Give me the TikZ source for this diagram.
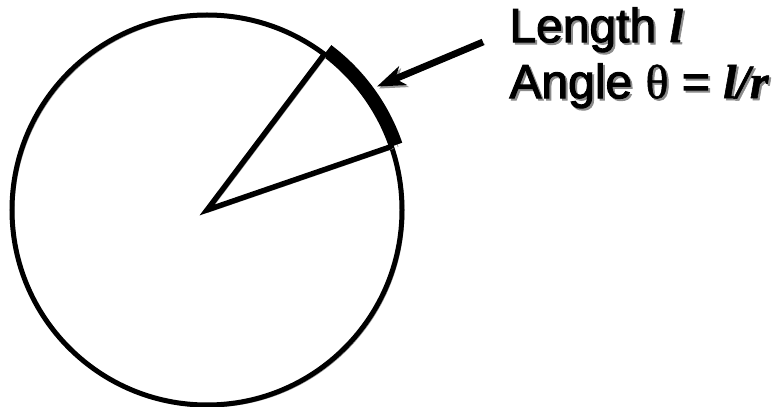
\documentclass[tikz,border=0pt]{standalone}
\usepackage{fontspec}
\setmainfont{Liberation Sans}
\newfontfamily\heavysans[FakeBold=2.2]{Liberation Sans}
\newfontfamily\timesfont[FakeBold=1.2]{Liberation Serif}
\usetikzlibrary{arrows.meta}

\begin{document}
\begin{tikzpicture}[
        x=.5pt,y=.5pt,
        drop/.style={preaction={draw=black!40,transform canvas={shift={(1pt,-1pt)}}}},
        rim/.style={drop,draw=black,line width=2.5pt},
        spoke/.style={drop,draw=black,line width=2.7pt,line cap=butt},
        arclen/.style={drop,draw=black,line width=6.5pt},
        pointer/.style={drop,draw=black,line width=3.4pt,
          -{Stealth[length=14pt,width=10pt,inset=4pt]}},
        caption/.style={anchor=north west,align=left,inner sep=0pt,
          font=\heavysans\fontsize{24}{28}\selectfont}
      ]
        \useasboundingbox (0,0) rectangle (777,407);

        \coordinate (centre) at (207,197);
        \path (centre) ++(53:195) coordinate (upper);
        \path (centre) ++(19:195) coordinate (lower);
        \path (centre) ++(53:200) coordinate (arcstart);
        \path (centre) ++(36:210) coordinate (hit);
        \coordinate (tail) at (483,365);

        % circle and wedge
        \draw[rim] (centre) circle (195);
        \draw[spoke] (lower) -- (centre) -- (upper);
        \draw[arclen] (arcstart) arc (53:19:200);

        % text with its drop shadow
        \node[caption,text=black!45] (labelshadow) at (511,398)
          {Length {\timesfont\itshape\bfseries l}\\
           Angle {\timesfont θ} = {\timesfont\itshape\bfseries l/r}};
        \node[caption] (label) at (509,400)
          {Length {\timesfont\itshape\bfseries l}\\
           Angle {\timesfont θ} = {\timesfont\itshape\bfseries l/r}};

        \draw[pointer] (tail) -- (hit);
      \end{tikzpicture}
\end{document}
